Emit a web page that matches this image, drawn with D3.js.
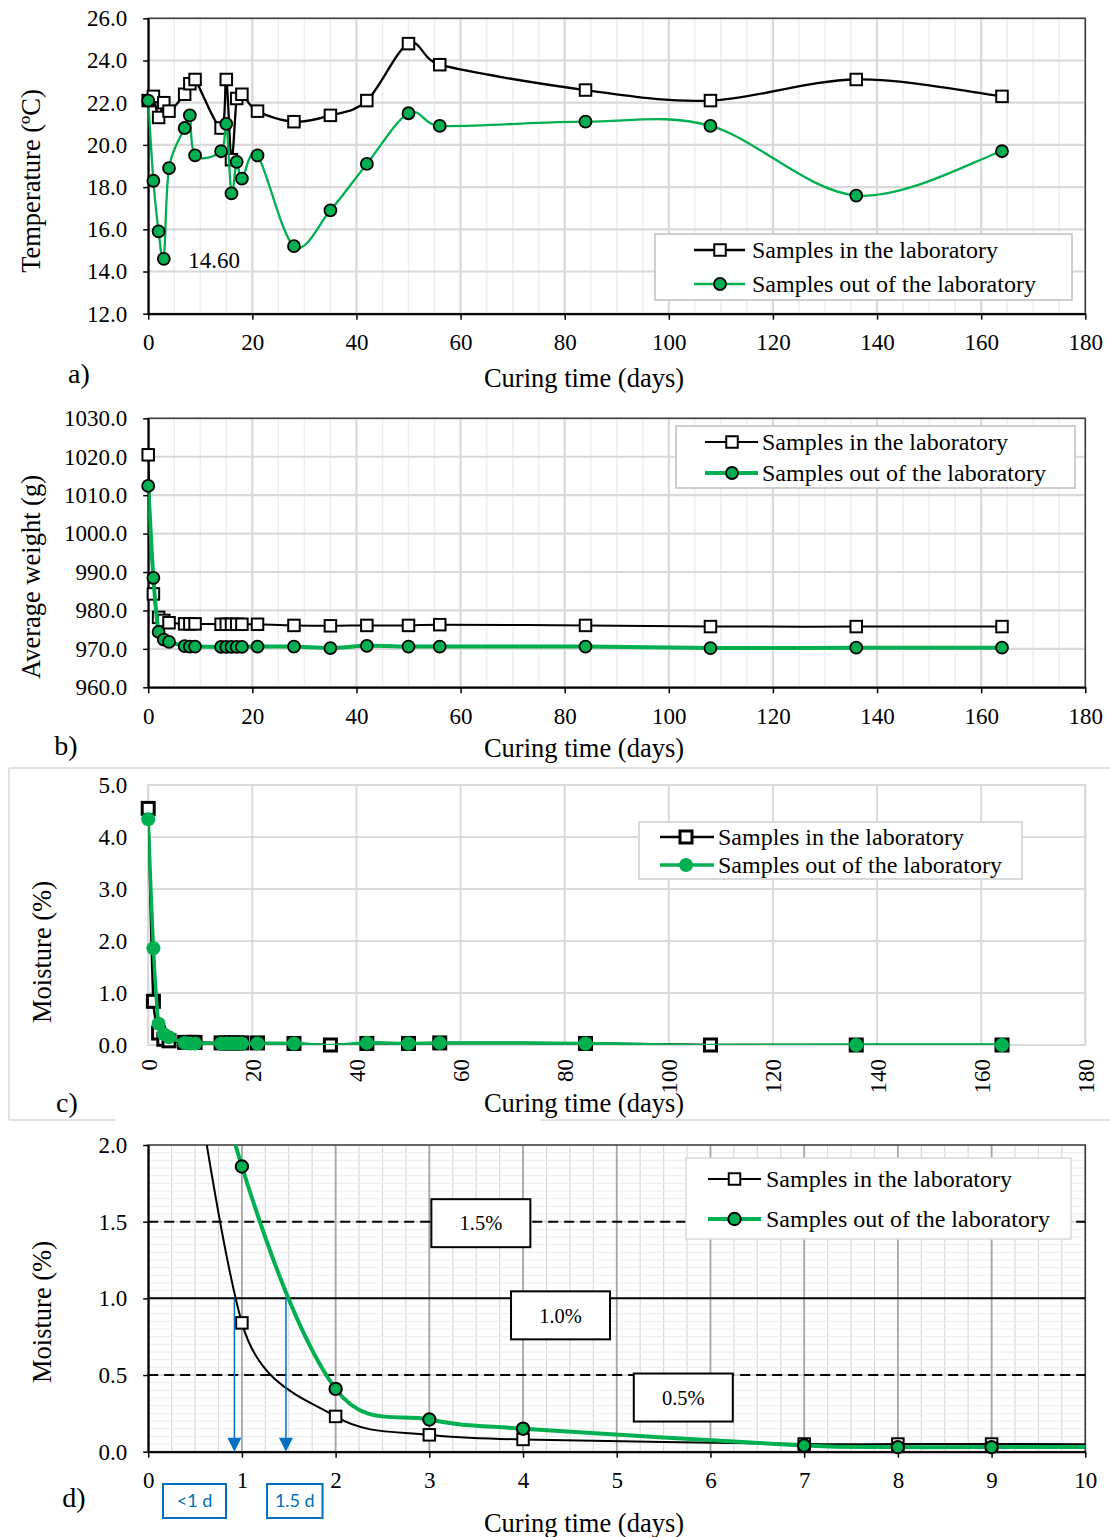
<!DOCTYPE html>
<html>
<head>
<meta charset="utf-8">
<script src="https://cdn.jsdelivr.net/npm/d3@7"></script>
<style>
  body { margin: 0; background: #fff; }
</style>
</head>
<body>
<div id="chart"></div>
<script>
// page set up
const FRAME_WIDTH = 1110;
const FRAME_HEIGHT = 1537;
const X_LEFT = 148.2;
const X_RIGHT = 1085.3;
const GREEN = "#00b050";
const BLUE = "#0070c0";
const SERIF = "'Liberation Serif', 'Times New Roman', serif";

// data
const DAYS = [0, 1, 2, 3, 4, 7, 8, 9, 14, 15, 16, 17, 18, 21, 28, 35, 42, 50, 56, 84, 108, 136, 164];
const TEMP_IN = [22.1, 22.3, 21.3, 22.0, 21.6, 22.4, 22.9, 23.1, 20.8, 23.1, 19.3, 22.2, 22.4, 21.6,
  21.1, 21.4, 22.1, 24.8, 23.8, 22.6, 22.1, 23.1, 22.3];
const TEMP_OUT = [22.1, 18.3, 15.9, 14.6, 18.9, 20.8, 21.4, 19.5, 19.7, 21.0, 17.7, 19.2, 18.4, 19.5,
  15.2, 16.9, 19.1, 21.5, 20.9, 21.1, 20.9, 17.6, 19.7];
const WEIGHT_IN = [1020.5, 984.3, 978.2, 977.4, 976.8, 976.5, 976.5, 976.5, 976.4, 976.4, 976.4, 976.4, 976.4, 976.4,
  976.1, 976.0, 976.1, 976.1, 976.3, 976.1, 975.8, 975.8, 975.8];
const WEIGHT_OUT = [1012.4, 988.5, 974.4, 972.4, 971.8, 970.7, 970.6, 970.6, 970.5, 970.5, 970.5, 970.5, 970.5, 970.6,
  970.6, 970.2, 970.8, 970.6, 970.6, 970.6, 970.2, 970.3, 970.3];
const MOIST_IN = [4.55, 0.84, 0.23, 0.11, 0.08, 0.05, 0.05, 0.05, 0.04, 0.04, 0.04, 0.04, 0.04, 0.04,
  0.03, 0.0, 0.03, 0.03, 0.04, 0.03, 0.0, 0.0, 0.0];
const MOIST_OUT = [4.34, 1.86, 0.41, 0.21, 0.15, 0.04, 0.03, 0.03, 0.03, 0.03, 0.03, 0.03, 0.03, 0.03,
  0.03, -0.01, 0.04, 0.03, 0.04, 0.03, -0.01, 0.0, 0.0];

const SERIES_NAMES = ["Samples in the laboratory", "Samples out of the laboratory"];
const TICKS_DAYS_LONG = [0, 20, 40, 60, 80, 100, 120, 140, 160, 180];
const TICKS_DAYS_SHORT = [0, 1, 2, 3, 4, 5, 6, 7, 8, 9, 10];
const TICKS_TEMP = [12, 14, 16, 18, 20, 22, 24, 26];
const TICKS_WEIGHT = [960, 970, 980, 990, 1000, 1010, 1020, 1030];
const TICKS_MOIST = [0, 1, 2, 3, 4, 5];
const TICKS_MOIST_ZOOM = [0, 0.5, 1.0, 1.5, 2.0];

const LIMITS = [1.5, 1.0, 0.5];
const LIMIT_DASHED = [true, false, true];
const LIMIT_TEXT = ["1.5%", "1.0%", "0.5%"];
const LIMIT_TEXT_DAY = [3.55, 4.4, 5.71];
const REACH_DAY = [0.92, 1.47];
const REACH_TEXT = ["<1 d", "1.5 d"];
const MIN_TEMP_TEXT = "14.60";

// Excel style smoothed line: bezier with control arms capped at half the segment
function ExcelSmooth(context) { this._context = context; }
ExcelSmooth.prototype = {
  areaStart: function() {},
  areaEnd: function() {},
  lineStart: function() { this._pts = []; },
  point: function(x, y) { this._pts.push([+x, +y]); },
  lineEnd: function() {
    const p = this._pts, c = this._context, n = p.length;
    if (!n) return;
    const dist = (a, b) => Math.hypot(b[0] - a[0], b[1] - a[1]);
    c.moveTo(p[0][0], p[0][1]);
    for (let i = 0; i < n - 1; i++) {
      const p0 = p[Math.max(i - 1, 0)], p1 = p[i], p2 = p[i + 1], p3 = p[Math.min(i + 2, n - 1)];
      const d12 = dist(p1, p2), d02 = dist(p0, p2), d13 = dist(p1, p3);
      let f1 = 1 / 6, f2 = 1 / 6;
      if (d02 > 0 && d02 / 6 >= d12 / 2) f1 = d12 / (2 * d02);
      if (d13 > 0 && d13 / 6 >= d12 / 2) f2 = d12 / (2 * d13);
      c.bezierCurveTo(p1[0] + f1 * (p2[0] - p0[0]), p1[1] + f1 * (p2[1] - p0[1]),
        p2[0] - f2 * (p3[0] - p1[0]), p2[1] - f2 * (p3[1] - p1[1]), p2[0], p2[1]);
    }
  }
};
const curveExcel = (context) => { return new ExcelSmooth(context); };

const SVG = d3.select("#chart")
  .append("svg")
  .attr("width", FRAME_WIDTH)
  .attr("height", FRAME_HEIGHT)
  .style("background", "#fff");

SVG.append("rect").attr("width", FRAME_WIDTH).attr("height", FRAME_HEIGHT).attr("fill", "#fff");

function addText(g, x, y, str, size, opts) {
  opts = opts || {};
  const t = g.append("text")
    .attr("x", x).attr("y", y)
    .attr("dy", "0.35em")
    .attr("text-anchor", opts.anchor || "middle")
    .attr("font-family", opts.family || SERIF)
    .attr("font-size", size)
    .attr("fill", opts.fill || "#000")
    .text(str);
  if (opts.rotate) {
    t.attr("x", 0).attr("y", 0).attr("transform", "translate(" + x + "," + y + ") rotate(-90)");
  }
  return t;
}

function drawMarker(g, kind, x, y, st) {
  if (kind === "square") {
    g.append("rect")
      .attr("x", x - st.sq / 2).attr("y", y - st.sq / 2)
      .attr("width", st.sq).attr("height", st.sq)
      .attr("fill", "#fff").attr("stroke", "#000").attr("stroke-width", st.sqStroke);
  } else {
    g.append("circle")
      .attr("cx", x).attr("cy", y).attr("r", st.r)
      .attr("fill", GREEN).attr("stroke", st.cStroke > 0 ? "#000" : "none")
      .attr("stroke-width", st.cStroke);
  }
}

// builds one panel: grid, series, legend, axes
function buildPanel(p) {
  const g = SVG.append("g");
  const X = d3.scaleLinear().domain(p.xDomain).range([X_LEFT, X_RIGHT]);
  const Y = d3.scaleLinear().domain(p.yDomain).range([p.bottom, p.top]);

  // minor grid
  if (p.xMinor) {
    g.selectAll(".xminor").data(d3.range(p.xDomain[0], p.xDomain[1] + 1e-9, p.xMinor)).enter()
      .append("line")
      .attr("x1", (d) => { return X(d); }).attr("x2", (d) => { return X(d); })
      .attr("y1", p.top).attr("y2", p.bottom)
      .attr("stroke", p.minorColor).attr("stroke-width", p.minorWidth);
  }
  if (p.yMinor) {
    g.selectAll(".yminor").data(d3.range(p.yDomain[0], p.yDomain[1] + 1e-9, p.yMinor)).enter()
      .append("line")
      .attr("x1", X_LEFT).attr("x2", X_RIGHT)
      .attr("y1", (d) => { return Y(d); }).attr("y2", (d) => { return Y(d); })
      .attr("stroke", p.yMinorColor).attr("stroke-width", 1);
  }
  // major grid
  g.selectAll(".ymajor").data(p.yTicks).enter()
    .append("line")
    .attr("x1", X_LEFT).attr("x2", X_RIGHT)
    .attr("y1", (d) => { return Y(d); }).attr("y2", (d) => { return Y(d); })
    .attr("stroke", p.gridColor).attr("stroke-width", p.gridWidth);
  g.selectAll(".xmajor").data(p.xTicks).enter()
    .append("line")
    .attr("x1", (d) => { return X(d); }).attr("x2", (d) => { return X(d); })
    .attr("y1", p.top).attr("y2", p.bottom)
    .attr("stroke", p.xGridColor || p.gridColor).attr("stroke-width", p.gridWidth);

  // plot border
  g.append("rect")
    .attr("x", X_LEFT).attr("y", p.top)
    .attr("width", X_RIGHT - X_LEFT).attr("height", p.bottom - p.top)
    .attr("fill", "none").attr("stroke", p.borderColor).attr("stroke-width", p.borderWidth);

  const clipId = "clip-" + p.id;
  SVG.append("clipPath").attr("id", clipId)
    .append("rect")
    .attr("x", X_LEFT).attr("y", p.top)
    .attr("width", X_RIGHT - X_LEFT).attr("height", p.bottom - p.top);

  if (p.extra) p.extra(g, X, Y);

  const line = d3.line()
    .x((d) => { return X(d.day); })
    .y((d) => { return Y(d.v); })
    .curve(curveExcel);

  const series = [
    {values: p.inData, color: "#000", width: p.inWidth, kind: "square"},
    {values: p.outData, color: GREEN, width: p.outWidth, kind: "circle"}
  ];

  // axes lines go under the markers
  const yAxis = d3.axisLeft(Y)
    .tickValues(p.yTicks)
    .tickFormat(d3.format(p.yFormat))
    .tickSize(p.ticks ? 5 : 0)
    .tickSizeOuter(0)
    .tickPadding(p.ticks ? 16 : 21);
  g.append("g")
    .attr("transform", "translate(" + X_LEFT + ",0)")
    .call(yAxis)
    .call((a) => {
      a.select(".domain").attr("stroke", p.ticks ? "#000" : "none").attr("stroke-width", 2);
      a.selectAll(".tick line").attr("stroke", "#000").attr("stroke-width", 1.5);
      a.selectAll("text").attr("font-family", SERIF).attr("font-size", 23).attr("fill", "#000");
    });

  const xAxis = d3.axisBottom(X)
    .tickValues(p.xTicks)
    .tickFormat(d3.format("d"))
    .tickSize(p.ticks ? 6 : 0)
    .tickSizeOuter(0)
    .tickPadding(14);
  const xg = g.append("g")
    .attr("transform", "translate(0," + p.bottom + ")")
    .call(xAxis)
    .call((a) => {
      a.select(".domain").attr("stroke", p.ticks ? "#000" : "none").attr("stroke-width", 2);
      a.selectAll(".tick line").attr("stroke", "#000").attr("stroke-width", 1.5);
      a.selectAll("text").attr("font-family", SERIF).attr("font-size", 23).attr("fill", "#000");
    });
  if (p.rotateX) {
    xg.selectAll("text")
      .attr("x", -14).attr("y", 0).attr("dy", "0.35em")
      .attr("text-anchor", "end")
      .attr("transform", "rotate(-90)");
  }

  series.forEach((s) => {
    const pts = DAYS.map((d, i) => { return {day: d, v: s.values[i]}; });
    g.append("path")
      .attr("clip-path", "url(#" + clipId + ")")
      .attr("d", line(pts))
      .attr("fill", "none")
      .attr("stroke", s.color)
      .attr("stroke-width", s.width)
      .attr("stroke-linejoin", "round");
    // markers are not clipped, only hidden when outside the axis range
    const mg = g.append("g");
    pts.filter((d) => {
      return d.v >= p.yDomain[0] && d.v <= p.yDomain[1] && d.day >= p.xDomain[0] && d.day <= p.xDomain[1];
    }).forEach((d) => { drawMarker(mg, s.kind, X(d.day), Y(d.v), p.marker); });
  });

  if (p.overlay) p.overlay(g, X, Y);

  // legend
  const L = p.legend;
  g.append("rect")
    .attr("x", L.x).attr("y", L.y).attr("width", L.w).attr("height", L.h)
    .attr("fill", "#fff").attr("stroke", L.stroke).attr("stroke-width", L.strokeWidth);
  series.forEach((s, i) => {
    const ry = L.rows[i];
    g.append("line")
      .attr("x1", L.x1).attr("x2", L.x2).attr("y1", ry).attr("y2", ry)
      .attr("stroke", s.color).attr("stroke-width", s.width);
    drawMarker(g, s.kind, L.mx, ry, p.marker);
    addText(g, L.tx, ry, SERIES_NAMES[i], 24, {anchor: "start"});
  });

  // titles
  addText(g, 584, p.xTitleY, "Curing time (days)", 26.5);
  addText(g, p.yTitleX, p.yTitleY, p.yTitle, 26.5, {rotate: true});
  addText(g, p.tagX, p.tagY, p.tag, 28);

  return {X: X, Y: Y};
}

// panel a: temperature
buildPanel({
  id: "a", top: 18.3, bottom: 313.7,
  xDomain: [0, 180], xTicks: TICKS_DAYS_LONG, xMinor: 5,
  yDomain: [12, 26], yTicks: TICKS_TEMP, yFormat: ".1f",
  minorColor: "#eeeeee", minorWidth: 1.5, gridColor: "#d9d9d9", gridWidth: 2.2,
  borderColor: "#404040", borderWidth: 1.5, ticks: true,
  inData: TEMP_IN, outData: TEMP_OUT, inWidth: 2.3, outWidth: 2.3,
  marker: {sq: 11.5, sqStroke: 2, r: 6, cStroke: 1.8},
  legend: {x: 655, y: 234, w: 417, h: 66, stroke: "#bfbfbf", strokeWidth: 1.5,
    rows: [250, 284], x1: 694, x2: 745, mx: 720, tx: 752},
  overlay: (g, X, Y) => {
    addText(g, X(3) + 24.5, Y(14.6) + 1, MIN_TEMP_TEXT, 23, {anchor: "start"});
  },
  xTitleY: 378, yTitle: "Temperature (ºC)", yTitleX: 31, yTitleY: 181,
  tag: "a)", tagX: 79, tagY: 373
});

// panel b: average weight
buildPanel({
  id: "b", top: 418.3, bottom: 687.3,
  xDomain: [0, 180], xTicks: TICKS_DAYS_LONG, xMinor: 5,
  yDomain: [960, 1030], yTicks: TICKS_WEIGHT, yFormat: ".1f",
  minorColor: "#eeeeee", minorWidth: 1.5, gridColor: "#d9d9d9", gridWidth: 2.2,
  borderColor: "#404040", borderWidth: 1.5, ticks: true,
  inData: WEIGHT_IN, outData: WEIGHT_OUT, inWidth: 2, outWidth: 4,
  marker: {sq: 11.5, sqStroke: 2, r: 6, cStroke: 1.8},
  legend: {x: 676, y: 426, w: 399, h: 62, stroke: "#bfbfbf", strokeWidth: 1.5,
    rows: [442, 473], x1: 705, x2: 758, mx: 732, tx: 762},
  xTitleY: 748, yTitle: "Average weight (g)", yTitleX: 31, yTitleY: 577,
  tag: "b)", tagX: 66, tagY: 745
});

// frame around panel c
const FRAME_C = SVG.append("g");
FRAME_C.append("line").attr("x1", 9).attr("x2", FRAME_WIDTH).attr("y1", 768).attr("y2", 768)
  .attr("stroke", "#d9d9d9").attr("stroke-width", 1.5);
FRAME_C.append("line").attr("x1", 9).attr("x2", 9).attr("y1", 768).attr("y2", 1120)
  .attr("stroke", "#d9d9d9").attr("stroke-width", 1.5);
FRAME_C.append("line").attr("x1", 9).attr("x2", 116).attr("y1", 1120).attr("y2", 1120)
  .attr("stroke", "#d9d9d9").attr("stroke-width", 1.5);
FRAME_C.append("line").attr("x1", 540).attr("x2", FRAME_WIDTH).attr("y1", 1120).attr("y2", 1120)
  .attr("stroke", "#d9d9d9").attr("stroke-width", 1.5);

// panel c: moisture, full period
buildPanel({
  id: "c", top: 785, bottom: 1045,
  xDomain: [0, 180], xTicks: TICKS_DAYS_LONG, xMinor: null,
  yDomain: [0, 5], yTicks: TICKS_MOIST, yFormat: ".1f",
  gridColor: "#d9d9d9", gridWidth: 2,
  borderColor: "#d9d9d9", borderWidth: 2, ticks: false, rotateX: true,
  inData: MOIST_IN, outData: MOIST_OUT, inWidth: 2.5, outWidth: 3.5,
  marker: {sq: 12, sqStroke: 3, r: 7, cStroke: 0},
  legend: {x: 639, y: 822, w: 383, h: 57, stroke: "#d9d9d9", strokeWidth: 2,
    rows: [837, 865], x1: 660, x2: 714, mx: 686, tx: 718},
  xTitleY: 1103, yTitle: "Moisture (%)", yTitleX: 42, yTitleY: 952,
  tag: "c)", tagX: 67, tagY: 1102
});

// panel d: moisture, first ten days
buildPanel({
  id: "d", top: 1145, bottom: 1451.7,
  xDomain: [0, 10], xTicks: TICKS_DAYS_SHORT, xMinor: 0.25, yMinor: 0.05,
  yDomain: [0, 2], yTicks: TICKS_MOIST_ZOOM, yFormat: ".1f",
  minorColor: "#d9d9d9", minorWidth: 1.2, yMinorColor: "#ececec",
  gridColor: "#d9d9d9", xGridColor: "#a6a6a6", gridWidth: 1.8,
  borderColor: "#404040", borderWidth: 1.5, ticks: true,
  inData: MOIST_IN, outData: MOIST_OUT, inWidth: 2, outWidth: 4,
  marker: {sq: 11.5, sqStroke: 2, r: 6.2, cStroke: 2},
  legend: {x: 686, y: 1158, w: 385, h: 81, stroke: "#d9d9d9", strokeWidth: 1.5,
    rows: [1179, 1219], x1: 708, x2: 761, mx: 734.5, tx: 766},
  extra: (g, X, Y) => {
    LIMITS.forEach((v, i) => {
      g.append("line")
        .attr("x1", X_LEFT).attr("x2", X_RIGHT).attr("y1", Y(v)).attr("y2", Y(v))
        .attr("stroke", "#000").attr("stroke-width", 2)
        .attr("stroke-dasharray", LIMIT_DASHED[i] ? "10,6" : null);
    });
    const offsets = [1.5, 17, 22.5];
    LIMITS.forEach((v, i) => {
      const cx = X(LIMIT_TEXT_DAY[i]), cy = Y(v) + offsets[i];
      g.append("rect")
        .attr("x", cx - 49.5).attr("y", cy - 24).attr("width", 99).attr("height", 48)
        .attr("fill", "#fff").attr("stroke", "#000").attr("stroke-width", 2);
      addText(g, cx, cy, LIMIT_TEXT[i], 20.5);
    });
  },
  overlay: (g, X, Y) => {
    REACH_DAY.forEach((d, i) => {
      const x = X(d), y0 = Y(1.0), y1 = Y(0);
      g.append("line")
        .attr("x1", x).attr("x2", x).attr("y1", y0).attr("y2", y1 - 12)
        .attr("stroke", BLUE).attr("stroke-width", 1.5);
      g.append("path")
        .attr("d", "M" + (x - 7) + "," + (y1 - 14) + "L" + (x + 7) + "," + (y1 - 14) + "L" + x + "," + y1 + "Z")
        .attr("fill", BLUE);
      const bx = [194.5, 294.8][i];
      const bw = [63, 55.5][i];
      g.append("rect")
        .attr("x", bx - bw / 2).attr("y", 1484).attr("width", bw).attr("height", 34)
        .attr("fill", "#fff").attr("stroke", BLUE).attr("stroke-width", 2);
      addText(g, bx, 1501, REACH_TEXT[i], 18, {family: "Lato, 'Liberation Sans', sans-serif", fill: BLUE});
    });
  },
  xTitleY: 1523, yTitle: "Moisture (%)", yTitleX: 42, yTitleY: 1312,
  tag: "d)", tagX: 74, tagY: 1497
});
</script>
</body>
</html>
